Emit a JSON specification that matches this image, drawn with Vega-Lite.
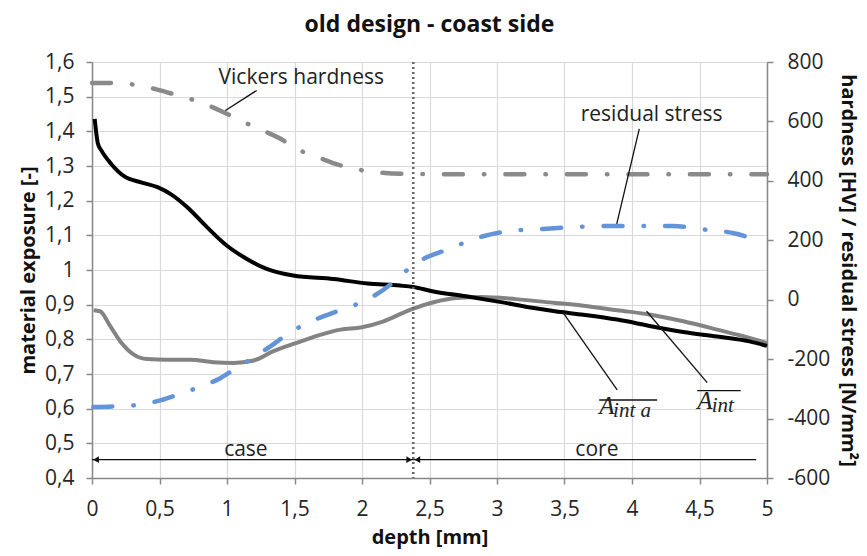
{
  "$schema": "https://vega.github.io/schema/vega-lite/v6.json",
  "width": 675,
  "height": 416,
  "autosize": "none",
  "padding": {"left": 92, "top": 62, "right": 100, "bottom": 78},
  "title": {"text": "old design - coast side", "font": "Open Sans", "fontSize": 23, "fontWeight": "bold", "color": "#111", "offset": 14, "anchor": "middle"},
  "datasets": {
    "exposure": [
      {"s": "inta", "depth": 0.02, "v": 1.436}, {"s": "inta", "depth": 0.044, "v": 1.364}, {"s": "inta", "depth": 0.069, "v": 1.345},
      {"s": "inta", "depth": 0.142, "v": 1.306}, {"s": "inta", "depth": 0.24, "v": 1.27}, {"s": "inta", "depth": 0.363, "v": 1.253},
      {"s": "inta", "depth": 0.485, "v": 1.239}, {"s": "inta", "depth": 0.583, "v": 1.219}, {"s": "inta", "depth": 0.706, "v": 1.181},
      {"s": "inta", "depth": 0.853, "v": 1.123}, {"s": "inta", "depth": 1.0, "v": 1.07}, {"s": "inta", "depth": 1.147, "v": 1.032},
      {"s": "inta", "depth": 1.294, "v": 1.003}, {"s": "inta", "depth": 1.49, "v": 0.984}, {"s": "inta", "depth": 1.79, "v": 0.974},
      {"s": "inta", "depth": 2.04, "v": 0.961}, {"s": "inta", "depth": 2.28, "v": 0.955}, {"s": "inta", "depth": 2.38, "v": 0.951},
      {"s": "inta", "depth": 2.53, "v": 0.938}, {"s": "inta", "depth": 2.77, "v": 0.924}, {"s": "inta", "depth": 3.02, "v": 0.908},
      {"s": "inta", "depth": 3.26, "v": 0.891}, {"s": "inta", "depth": 3.43, "v": 0.881}, {"s": "inta", "depth": 3.64, "v": 0.871},
      {"s": "inta", "depth": 3.89, "v": 0.857}, {"s": "inta", "depth": 4.14, "v": 0.838}, {"s": "inta", "depth": 4.38, "v": 0.821},
      {"s": "inta", "depth": 4.63, "v": 0.808}, {"s": "inta", "depth": 4.87, "v": 0.794}, {"s": "inta", "depth": 5.0, "v": 0.781},
      {"s": "int", "depth": 0.012, "v": 0.884}, {"s": "int", "depth": 0.06, "v": 0.881}, {"s": "int", "depth": 0.135, "v": 0.838},
      {"s": "int", "depth": 0.21, "v": 0.794}, {"s": "int", "depth": 0.31, "v": 0.756}, {"s": "int", "depth": 0.41, "v": 0.743},
      {"s": "int", "depth": 0.55, "v": 0.741}, {"s": "int", "depth": 0.73, "v": 0.741}, {"s": "int", "depth": 0.9, "v": 0.734},
      {"s": "int", "depth": 1.05, "v": 0.732}, {"s": "int", "depth": 1.19, "v": 0.738}, {"s": "int", "depth": 1.34, "v": 0.765},
      {"s": "int", "depth": 1.51, "v": 0.789}, {"s": "int", "depth": 1.69, "v": 0.813}, {"s": "int", "depth": 1.84, "v": 0.828},
      {"s": "int", "depth": 2.0, "v": 0.835}, {"s": "int", "depth": 2.16, "v": 0.852}, {"s": "int", "depth": 2.36, "v": 0.886},
      {"s": "int", "depth": 2.53, "v": 0.907}, {"s": "int", "depth": 2.7, "v": 0.919}, {"s": "int", "depth": 2.89, "v": 0.922},
      {"s": "int", "depth": 3.14, "v": 0.916}, {"s": "int", "depth": 3.43, "v": 0.905}, {"s": "int", "depth": 3.64, "v": 0.897},
      {"s": "int", "depth": 3.89, "v": 0.884}, {"s": "int", "depth": 4.14, "v": 0.871}, {"s": "int", "depth": 4.38, "v": 0.852},
      {"s": "int", "depth": 4.63, "v": 0.828}, {"s": "int", "depth": 4.87, "v": 0.804}, {"s": "int", "depth": 5.0, "v": 0.789}
    ],
    "stress": [
      {"s": "hv", "depth": 0.0, "v": 729}, {"s": "hv", "depth": 0.15, "v": 729}, {"s": "hv", "depth": 0.326, "v": 723},
      {"s": "hv", "depth": 0.485, "v": 707}, {"s": "hv", "depth": 0.632, "v": 688}, {"s": "hv", "depth": 0.78, "v": 668},
      {"s": "hv", "depth": 0.975, "v": 631}, {"s": "hv", "depth": 1.086, "v": 606}, {"s": "hv", "depth": 1.22, "v": 578},
      {"s": "hv", "depth": 1.417, "v": 536}, {"s": "hv", "depth": 1.49, "v": 513}, {"s": "hv", "depth": 1.645, "v": 485},
      {"s": "hv", "depth": 1.804, "v": 457}, {"s": "hv", "depth": 1.939, "v": 441}, {"s": "hv", "depth": 2.11, "v": 429},
      {"s": "hv", "depth": 2.38, "v": 423}, {"s": "hv", "depth": 3.0, "v": 422}, {"s": "hv", "depth": 4.0, "v": 422},
      {"s": "hv", "depth": 5.0, "v": 422},
      {"s": "rs", "depth": 0.01, "v": -361}, {"s": "rs", "depth": 0.16, "v": -359}, {"s": "rs", "depth": 0.32, "v": -355},
      {"s": "rs", "depth": 0.505, "v": -339}, {"s": "rs", "depth": 0.6, "v": -325}, {"s": "rs", "depth": 0.776, "v": -297},
      {"s": "rs", "depth": 0.95, "v": -264}, {"s": "rs", "depth": 1.05, "v": -236}, {"s": "rs", "depth": 1.19, "v": -196},
      {"s": "rs", "depth": 1.34, "v": -151}, {"s": "rs", "depth": 1.44, "v": -118}, {"s": "rs", "depth": 1.608, "v": -76},
      {"s": "rs", "depth": 1.816, "v": -39}, {"s": "rs", "depth": 2.05, "v": 3}, {"s": "rs", "depth": 2.21, "v": 51},
      {"s": "rs", "depth": 2.257, "v": 70}, {"s": "rs", "depth": 2.43, "v": 131}, {"s": "rs", "depth": 2.64, "v": 170},
      {"s": "rs", "depth": 2.87, "v": 210}, {"s": "rs", "depth": 3.09, "v": 231}, {"s": "rs", "depth": 3.34, "v": 238},
      {"s": "rs", "depth": 3.59, "v": 245}, {"s": "rs", "depth": 3.83, "v": 248}, {"s": "rs", "depth": 4.05, "v": 248},
      {"s": "rs", "depth": 4.3, "v": 248}, {"s": "rs", "depth": 4.52, "v": 237}, {"s": "rs", "depth": 4.77, "v": 222},
      {"s": "rs", "depth": 4.97, "v": 192}
    ],
    "segments": [
      {"depth": 0.0, "depth2": 2.38, "v": 0.453, "v2": 0.453},
      {"depth": 2.38, "depth2": 4.92, "v": 0.453, "v2": 0.453},
      {"depth": 1.22, "depth2": 0.988, "v": 1.518, "v2": 1.46},
      {"depth": 4.054, "depth2": 3.887, "v": 1.407, "v2": 1.133},
      {"depth": 3.483, "depth2": 3.89, "v": 0.881, "v2": 0.654},
      {"depth": 4.108, "depth2": 4.557, "v": 0.881, "v2": 0.675},
      {"depth": 3.757, "depth2": 4.186, "v": 0.625, "v2": 0.625},
      {"depth": 4.483, "depth2": 4.805, "v": 0.652, "v2": 0.652}
    ],
    "heads": [
      {"depth": 0.03, "v": 0.453, "dir": "left"},
      {"depth": 2.35, "v": 0.453, "dir": "right"},
      {"depth": 2.41, "v": 0.453, "dir": "left"}
    ],
    "labels": [
      {"depth": 1.55, "v": 1.537, "t": "Vickers hardness"},
      {"depth": 4.145, "v": 1.431, "t": "residual stress"},
      {"depth": 1.14, "v": 0.4625, "t": "case"},
      {"depth": 3.74, "v": 0.4625, "t": "core"}
    ],
    "mathA": [
      {"depth": 3.757, "v": 0.586, "t": "A"},
      {"depth": 4.483, "v": 0.600, "t": "A"}
    ],
    "mathSub": [
      {"depth": 3.86, "v": 0.575, "t": "int a"},
      {"depth": 4.59, "v": 0.589, "t": "int"}
    ],
    "divider": [{"depth": 2.38}]
  },
  "layer": [
    {
      "data": {"name": "exposure"},
      "transform": [{"filter": "datum.s === 'int'"}],
      "mark": {"type": "line", "color": "#838383", "strokeWidth": 4, "interpolate": "monotone"},
      "encoding": {
        "x": {"field": "depth", "type": "quantitative", "scale": {"domain": [0, 5], "nice": false}, "title": "depth [mm]", "axis": {"values": [0, 0.5, 1, 1.5, 2, 2.5, 3, 3.5, 4, 4.5, 5], "format": ".1~f", "grid": true}},
        "y": {"field": "v", "type": "quantitative", "scale": {"domain": [0.4, 1.6], "nice": false, "zero": false},
          "axis": {"orient": "left", "title": "material exposure [-]", "values": [0.4, 0.5, 0.6, 0.7, 0.8, 0.9, 1.0, 1.1, 1.2, 1.3, 1.4, 1.5, 1.6], "format": ".1~f", "grid": true}}
      }
    },
    {
      "data": {"name": "exposure"},
      "transform": [{"filter": "datum.s === 'inta'"}],
      "mark": {"type": "line", "color": "#000000", "strokeWidth": 4, "interpolate": "monotone"},
      "encoding": {
        "x": {"field": "depth", "type": "quantitative", "scale": {"domain": [0, 5], "nice": false}, "title": "depth [mm]", "axis": {"values": [0, 0.5, 1, 1.5, 2, 2.5, 3, 3.5, 4, 4.5, 5], "format": ".1~f", "grid": true}},
        "y": {"field": "v", "type": "quantitative", "scale": {"domain": [0.4, 1.6], "nice": false, "zero": false}, "axis": null}
      }
    },
    {
      "data": {"name": "stress"},
      "transform": [{"filter": "datum.s === 'hv'"}],
      "mark": {"type": "line", "color": "#8a8a8a", "strokeWidth": 4.5, "strokeCap": "round", "strokeDash": [19, 21, 0.5, 21], "interpolate": "monotone"},
      "encoding": {
        "x": {"field": "depth", "type": "quantitative", "scale": {"domain": [0, 5], "nice": false}, "title": "depth [mm]", "axis": {"values": [0, 0.5, 1, 1.5, 2, 2.5, 3, 3.5, 4, 4.5, 5], "format": ".1~f", "grid": true}},
        "y": {"field": "v", "type": "quantitative", "scale": {"domain": [-600, 800], "nice": false, "zero": false},
          "axis": {"orient": "right", "title": "hardness [HV] / residual stress [N/mm²]", "values": [-600, -400, -200, 0, 200, 400, 600, 800], "format": "d", "grid": false}}
      }
    },
    {
      "data": {"name": "stress"},
      "transform": [{"filter": "datum.s === 'rs'"}],
      "mark": {"type": "line", "color": "#6394d8", "strokeWidth": 4.5, "strokeCap": "round", "strokeDash": [19, 21, 0.5, 21], "interpolate": "monotone"},
      "encoding": {
        "x": {"field": "depth", "type": "quantitative", "scale": {"domain": [0, 5], "nice": false}, "title": "depth [mm]", "axis": {"values": [0, 0.5, 1, 1.5, 2, 2.5, 3, 3.5, 4, 4.5, 5], "format": ".1~f", "grid": true}},
        "y": {"field": "v", "type": "quantitative", "scale": {"domain": [-600, 800], "nice": false, "zero": false}, "axis": null}
      }
    },
    {
      "data": {"name": "divider"},
      "mark": {"type": "rule", "color": "#666666", "strokeWidth": 2.5, "strokeDash": [2, 3]},
      "encoding": {
        "x": {"field": "depth", "type": "quantitative", "scale": {"domain": [0, 5], "nice": false}, "title": "depth [mm]", "axis": {"values": [0, 0.5, 1, 1.5, 2, 2.5, 3, 3.5, 4, 4.5, 5], "format": ".1~f", "grid": true}}
      }
    },
    {
      "data": {"name": "segments"},
      "mark": {"type": "rule", "color": "#111111", "strokeWidth": 1.3},
      "encoding": {
        "x": {"field": "depth", "type": "quantitative", "scale": {"domain": [0, 5], "nice": false}, "title": "depth [mm]", "axis": {"values": [0, 0.5, 1, 1.5, 2, 2.5, 3, 3.5, 4, 4.5, 5], "format": ".1~f", "grid": true}},
        "x2": {"field": "depth2"},
        "y": {"field": "v", "type": "quantitative", "scale": {"domain": [0.4, 1.6], "nice": false, "zero": false}, "axis": null},
        "y2": {"field": "v2"}
      }
    },
    {
      "data": {"name": "heads"},
      "mark": {"type": "point", "filled": true, "color": "#111111", "opacity": 1, "size": 45},
      "encoding": {
        "x": {"field": "depth", "type": "quantitative", "scale": {"domain": [0, 5], "nice": false}, "title": "depth [mm]", "axis": {"values": [0, 0.5, 1, 1.5, 2, 2.5, 3, 3.5, 4, 4.5, 5], "format": ".1~f", "grid": true}},
        "y": {"field": "v", "type": "quantitative", "scale": {"domain": [0.4, 1.6], "nice": false, "zero": false}, "axis": null},
        "shape": {"field": "dir", "type": "nominal", "scale": {"domain": ["left", "right"], "range": ["triangle-left", "triangle-right"]}, "legend": null}
      }
    },
    {
      "data": {"name": "labels"},
      "mark": {"type": "text", "font": "Open Sans", "fontSize": 21, "color": "#222222", "align": "center", "baseline": "alphabetic"},
      "encoding": {
        "x": {"field": "depth", "type": "quantitative", "scale": {"domain": [0, 5], "nice": false}, "title": "depth [mm]", "axis": {"values": [0, 0.5, 1, 1.5, 2, 2.5, 3, 3.5, 4, 4.5, 5], "format": ".1~f", "grid": true}},
        "y": {"field": "v", "type": "quantitative", "scale": {"domain": [0.4, 1.6], "nice": false, "zero": false}, "axis": null},
        "text": {"field": "t"}
      }
    },
    {
      "data": {"name": "mathA"},
      "mark": {"type": "text", "font": "Liberation Serif", "fontStyle": "italic", "fontSize": 25, "color": "#222222", "align": "left", "baseline": "alphabetic"},
      "encoding": {
        "x": {"field": "depth", "type": "quantitative", "scale": {"domain": [0, 5], "nice": false}, "title": "depth [mm]", "axis": {"values": [0, 0.5, 1, 1.5, 2, 2.5, 3, 3.5, 4, 4.5, 5], "format": ".1~f", "grid": true}},
        "y": {"field": "v", "type": "quantitative", "scale": {"domain": [0.4, 1.6], "nice": false, "zero": false}, "axis": null},
        "text": {"field": "t"}
      }
    },
    {
      "data": {"name": "mathSub"},
      "mark": {"type": "text", "font": "Liberation Serif", "fontStyle": "italic", "fontSize": 21, "color": "#222222", "align": "left", "baseline": "alphabetic"},
      "encoding": {
        "x": {"field": "depth", "type": "quantitative", "scale": {"domain": [0, 5], "nice": false}, "title": "depth [mm]", "axis": {"values": [0, 0.5, 1, 1.5, 2, 2.5, 3, 3.5, 4, 4.5, 5], "format": ".1~f", "grid": true}},
        "y": {"field": "v", "type": "quantitative", "scale": {"domain": [0.4, 1.6], "nice": false, "zero": false}, "axis": null},
        "text": {"field": "t"}
      }
    }
  ],
  "resolve": {"scale": {"y": "independent"}},
  "config": {
    "locale": {"number": {"decimal": ",", "thousands": ".", "grouping": [3], "currency": ["", " €"], "minus": "-"}},
    "view": {"stroke": null},
    "font": "Open Sans",
    "axis": {
      "labelFont": "Open Sans", "labelFontSize": 21, "labelColor": "#262626",
      "titleFont": "Open Sans", "titleFontSize": 20, "titleFontWeight": "bold", "titleColor": "#111111",
      "domainColor": "#888888", "domainWidth": 1.5, "tickColor": "#888888", "tickSize": 6, "tickWidth": 1.5,
      "gridColor": "#d9d9d9", "gridWidth": 1.2
    },
    "axisX": {"labelPadding": 14, "titlePadding": 8, "labelFlush": false},
    "axisLeft": {"labelPadding": 12, "titlePadding": 6},
    "axisRight": {"labelPadding": 14, "titlePadding": 8}
  }
}
